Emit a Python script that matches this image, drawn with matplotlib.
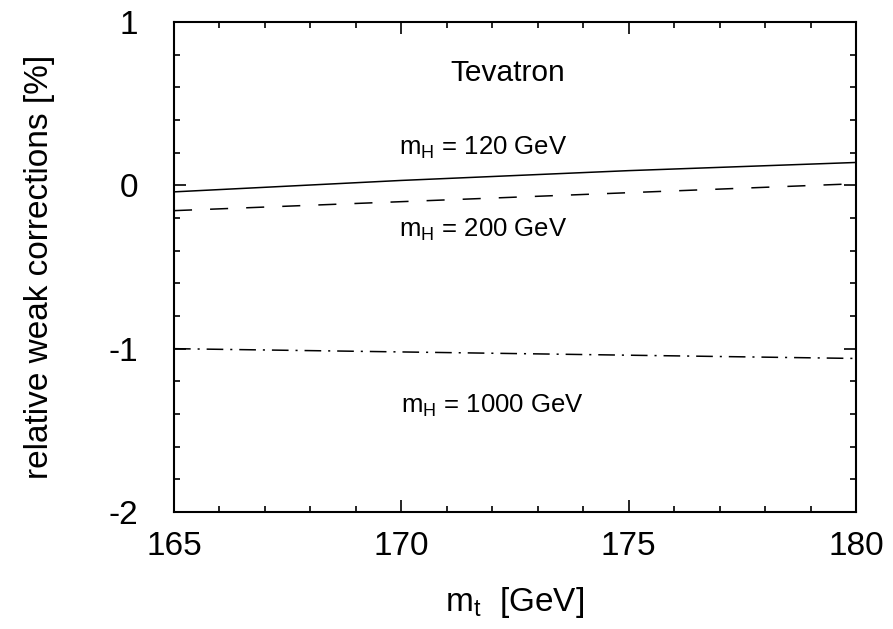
import numpy as np
import matplotlib
matplotlib.use("Agg")
import matplotlib.pyplot as plt
from matplotlib.ticker import MultipleLocator, FuncFormatter

plt.rcParams['font.family'] = ['Liberation Sans', 'DejaVu Sans']
plt.rcParams['mathtext.fontset'] = 'custom'
plt.rcParams['mathtext.rm'] = 'Liberation Sans'
plt.rcParams['mathtext.it'] = 'Liberation Sans:italic'

# top mass [GeV]
mt = [165, 170, 175, 180]
# relative weak corrections [%] for each Higgs mass
corr_120 = [-0.04, 0.03, 0.09, 0.14]
corr_200 = [-0.155, -0.10, -0.045, 0.01]
corr_1000 = [-1.00, -1.02, -1.04, -1.06]

fig = plt.figure(figsize=(8.93, 6.29), dpi=100)
ax = fig.add_axes([174/893, 1-512/629, (856-174)/893, (512-22)/629])

lw = 1.1
ax.plot(mt, corr_120, color='black', lw=lw)
ax.plot(mt, corr_200, color='black', lw=lw, dashes=(13/lw, 13/lw))
ax.plot(mt, corr_1000, color='black', lw=lw, dashes=(12/lw, 5/lw, 1.5/lw, 5/lw))

ax.set_xlim(165, 180)
ax.set_ylim(-2, 1)
ax.xaxis.set_major_locator(MultipleLocator(5))
ax.xaxis.set_minor_locator(MultipleLocator(1))
ax.yaxis.set_major_locator(MultipleLocator(1))
ax.yaxis.set_minor_locator(MultipleLocator(0.2))
ax.yaxis.set_major_formatter(FuncFormatter(lambda v, p: f"{v:.0f}"))
ax.tick_params(which='both', direction='in', top=True, right=True, width=1.2)
ax.tick_params(which='major', length=8.6, labelsize=24)
ax.tick_params(which='minor', length=4.3)
ax.tick_params(axis='x', pad=14)
ax.tick_params(axis='y', pad=26)
for s in ax.spines.values():
    s.set_linewidth(1.5)

ax.set_xlabel(r'$\mathrm{m_t}$  [GeV]', fontsize=24, labelpad=16)
ax.set_ylabel('relative weak corrections [%]', fontsize=24, labelpad=38)

ax.text(172.35, 0.69, 'Tevatron', ha='center', va='center', fontsize=21.5)
ax.text(171.8, 0.23, r'$\mathrm{m_H}$ = 120 GeV', ha='center', va='center', fontsize=18.5)
ax.text(171.8, -0.27, r'$\mathrm{m_H}$ = 200 GeV', ha='center', va='center', fontsize=18.5)
ax.text(172.0, -1.35, r'$\mathrm{m_H}$ = 1000 GeV', ha='center', va='center', fontsize=18.5)

fig.savefig('out.png', dpi=100)
